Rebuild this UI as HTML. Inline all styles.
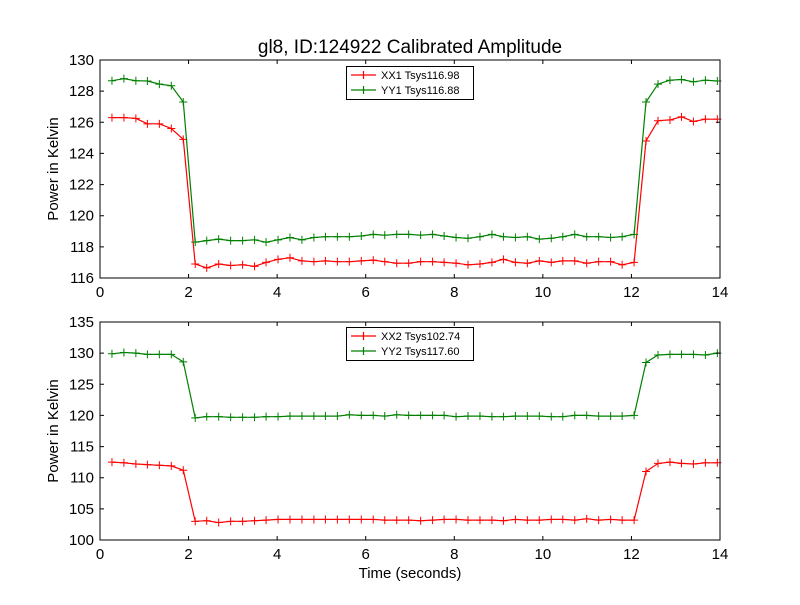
<!DOCTYPE html>
<html><head><meta charset="utf-8"><style>
body{margin:0;background:#fff;}
svg{font-family:"Liberation Sans","DejaVu Sans",sans-serif;}
</style></head><body>
<svg id="chart" width="800" height="600" xmlns="http://www.w3.org/2000/svg">
<rect width="800" height="600" fill="#fff"/>
<text x="410" y="53" font-size="19" text-anchor="middle">gl8, ID:124922 Calibrated Amplitude</text>
<text x="410" y="578" font-size="15" text-anchor="middle">Time (seconds)</text>
<g id="g"></g>
</svg>
<script>
const times=[0.27,0.54,0.81,1.07,1.34,1.61,1.88,2.15,2.41,2.68,2.95,3.22,3.49,3.75,4.02,4.29,4.56,4.83,5.09,5.36,5.63,5.90,6.17,6.43,6.70,6.97,7.24,7.51,7.77,8.04,8.31,8.58,8.85,9.11,9.38,9.65,9.92,10.19,10.45,10.72,10.99,11.26,11.53,11.79,12.06,12.33,12.60,12.87,13.13,13.40,13.67,13.94];
const xx1=[126.3,126.3,126.25,125.9,125.9,125.6,124.9,116.9,116.65,116.9,116.8,116.85,116.75,117.0,117.2,117.3,117.1,117.05,117.1,117.05,117.05,117.1,117.15,117.05,116.95,116.95,117.05,117.05,117.0,116.95,116.85,116.9,117.0,117.2,117.0,116.95,117.1,117.0,117.1,117.1,116.95,117.05,117.05,116.85,117.0,124.8,126.1,126.15,126.35,126.05,126.2,126.2];
const yy1=[128.67,128.8,128.67,128.65,128.45,128.35,127.3,118.3,118.4,118.5,118.4,118.4,118.45,118.3,118.45,118.6,118.45,118.6,118.65,118.65,118.65,118.7,118.8,118.75,118.8,118.8,118.75,118.8,118.7,118.6,118.55,118.65,118.8,118.65,118.6,118.65,118.5,118.55,118.65,118.8,118.65,118.65,118.6,118.65,118.8,127.3,128.45,128.7,128.75,128.6,128.7,128.65];
const xx2=[112.5,112.4,112.2,112.1,112.0,111.9,111.2,103.0,103.1,102.8,103.0,103.0,103.1,103.2,103.3,103.3,103.3,103.3,103.3,103.3,103.3,103.3,103.3,103.2,103.2,103.2,103.1,103.2,103.3,103.3,103.2,103.2,103.2,103.1,103.3,103.2,103.2,103.3,103.3,103.2,103.4,103.2,103.3,103.2,103.2,111.0,112.3,112.5,112.3,112.2,112.4,112.4];
const yy2=[129.9,130.1,130.0,129.8,129.8,129.8,128.6,119.6,119.8,119.8,119.7,119.7,119.7,119.8,119.8,119.9,119.9,119.9,119.9,119.9,120.1,120.0,120.0,119.9,120.1,120.0,120.0,120.0,120.0,119.8,119.9,119.9,119.8,119.8,119.9,119.9,119.9,119.8,119.8,120.0,120.0,119.9,119.9,119.9,120.0,128.5,129.7,129.8,129.8,129.8,129.7,130.0];
const xTicks=[0,2,4,6,8,10,12,14];
const yTicksTop=[116,118,120,122,124,126,128,130];
const yTicksBot=[100,105,110,115,120,125,130,135];
const legendTop=["XX1 Tsys116.98","YY1 Tsys116.88"];
const legendBot=["XX2 Tsys102.74","YY2 Tsys117.60"];

const NS="http://www.w3.org/2000/svg";
const G=document.getElementById('g');
function mk(tag,attrs,parent){const e=document.createElementNS(NS,tag);for(const k in attrs)e.setAttribute(k,attrs[k]);(parent||G).appendChild(e);return e;}

function panel(name,top,bottom,ymin,ymax,yTicks,series,labels,legY){
  const L=100,R=720;
  const xs=v=>L+(v-0)/(14-0)*(R-L);
  const ys=v=>bottom-(v-ymin)/(ymax-ymin)*(bottom-top);
  const g=mk('g',{});
  
  
  const colors=['#ff0000','#008000'];
  series.forEach((s,si)=>{
    const pts=s.map((v,i)=>xs(times[i]).toFixed(1)+','+ys(v).toFixed(1)).join(' ');
    const pl=mk('polyline',{points:pts,fill:'none',stroke:colors[si],'stroke-width':1.2},g);
    
    
    s.forEach((v,i)=>{
      const x=xs(times[i]),y=ys(v);
      const m=mk('path',{d:`M${x-4},${y}H${x+4}M${x},${y-4}V${y+4}`,stroke:colors[si],'stroke-width':1},g);
      
      
    });
  });
  const fr=mk('rect',{x:L,y:top,width:R-L,height:bottom-top,fill:'none',stroke:'#000','stroke-width':1},g);
  
  
  xTicks.forEach(t=>{
    const x=xs(t);
    mk('path',{d:`M${x},${bottom}v-4M${x},${top}v4`,stroke:'#000'},g);
    const tx=mk('text',{x:x,y:bottom+19,'font-size':15,'text-anchor':'middle'},g);
    tx.textContent=t;
    
    
  });
  yTicks.forEach(t=>{
    const y=ys(t);
    mk('path',{d:`M${L},${y}h4M${R},${y}h-4`,stroke:'#000'},g);
    const tx=mk('text',{x:L-6,y:y+5,'font-size':15,'text-anchor':'end'},g);
    tx.textContent=t;
    
    
  });
  const yt=mk('text',{x:0,y:0,'font-size':15,'text-anchor':'middle',transform:`translate(58,${(top+bottom)/2}) rotate(-90)`},g);
  yt.textContent='Power in Kelvin';
  
  
  const lg=mk('g',{},g);
  
  
  mk('rect',{x:346.5,y:legY+0.5,width:127,height:33,fill:'#fff',stroke:'#000'},lg);
  labels.forEach((lab,i)=>{
    const yy=legY+9+i*15;
    mk('path',{d:`M351,${yy}h25M363.5,${yy-4}v8`,stroke:colors[i],'stroke-width':1.2},lg);
    const t=mk('text',{x:381,y:yy+4,'font-size':11},lg);
    t.textContent=lab;
    
    
  });
}
panel('top-panel',60,278,116,130,yTicksTop,[xx1,yy1],legendTop,66);
panel('bottom-panel',322,540,100,135,yTicksBot,[xx2,yy2],legendBot,327);
</script>
</body></html>
